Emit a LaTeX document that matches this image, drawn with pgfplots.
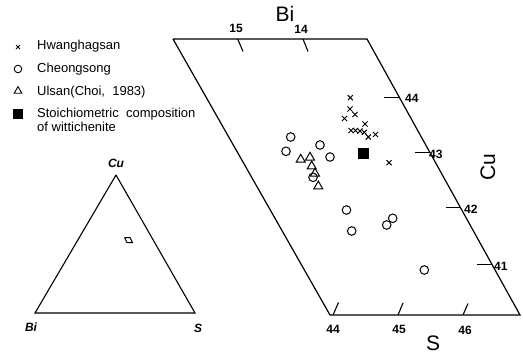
\documentclass[border=0pt]{standalone}
\usepackage{pgfplots}
\pgfplotsset{compat=1.18}
\usepackage{fontspec}
\setmainfont{Liberation Sans}
\tikzset{
  ticklab/.style={font=\fontsize{12bp}{14bp}\selectfont\bfseries},
  bigtitle/.style={font=\fontsize{21bp}{24bp}\selectfont},
  legtext/.style={font=\fontsize{13bp}{15bp}\selectfont, anchor=west, inner sep=0pt},
  cornerlab/.style={font=\fontsize{12bp}{14bp}\selectfont\bfseries\itshape},
}
\begin{document}
\begin{tikzpicture}
\begin{axis}[scale only axis, width=523bp, height=355bp,
  xmin=0, xmax=523, ymin=0, ymax=355, y dir=reverse,
  hide axis, clip=false]
\addplot[draw=none] coordinates {(0,0) (523,355)};
% parallelogram frame
\addplot[black, line width=1.2pt] coordinates {(173,39) (367,39) (520,315) (330,315) (173,39)};
% Bi ticks (top)
\addplot[black, line width=1.1pt] coordinates {(237.7,39) (243,51.5)};
\addplot[black, line width=1.1pt] coordinates {(303,39) (308,51.5)};
% S ticks (bottom)
\addplot[black, line width=1.1pt] coordinates {(333,315) (338.5,302.5)};
\addplot[black, line width=1.1pt] coordinates {(398,315) (403,303)};
\addplot[black, line width=1.1pt] coordinates {(463,315) (468,303.5)};
% Cu ticks (right)
\addplot[black, line width=1.1pt] coordinates {(383.5,97.7) (399.5,97.7)};
\addplot[black, line width=1.1pt] coordinates {(415,152.7) (430,152.7)};
\addplot[black, line width=1.1pt] coordinates {(446,207.3) (460.3,207.3)};
\addplot[black, line width=1.1pt] coordinates {(477.3,264.3) (492,264.3)};
% tick labels
\node[ticklab] at (axis cs:236,28) {15};
\node[ticklab] at (axis cs:301,29) {14};
\node[ticklab] at (axis cs:333,329) {44};
\node[ticklab] at (axis cs:399,329) {45};
\node[ticklab] at (axis cs:465,330) {46};
\node[ticklab, anchor=west, inner sep=0pt] at (axis cs:405,98) {44};
\node[ticklab, anchor=west, inner sep=0pt] at (axis cs:429,154) {43};
\node[ticklab, anchor=west, inner sep=0pt] at (axis cs:464,209) {42};
\node[ticklab, anchor=west, inner sep=0pt] at (axis cs:494,266) {41};
% axis titles
\node[bigtitle] at (axis cs:285,14) {Bi};
\node[bigtitle] at (axis cs:433,343) {S};
\node[bigtitle, rotate=90] at (axis cs:488,167) {Cu};
% data: Hwanghagsan
\addplot[only marks, mark=x, mark size=3.6bp, line width=1pt, black] coordinates {
(350.3,97.7) (350,109) (355,114.5) (344.5,118.5) (351,130.5) (355.5,130.5)
(360,131) (365,124) (364.3,132.3) (368.3,137) (375.5,134.5) (389,162.7)};
% Cheongsong
\addplot[only marks, mark=o, mark size=4.3bp, line width=1pt, black] coordinates {
(290.7,137) (286,151.3) (320,145) (330,157) (313,177.3) (346.5,210)
(351.7,231) (386.7,225) (392.7,218.3) (424.3,270)};
% Ulsan
\addplot[only marks, mark=triangle, mark size=5.2bp, line width=1pt, black] coordinates {
(300.7,159.5) (310,157.5) (311.7,166.3) (315,173.5) (318.3,186.3)};
% stoichiometric wittichenite
\addplot[only marks, mark=square*, mark size=5bp, black] coordinates {(363.3,153.3)};
% legend
\addplot[only marks, mark=x, mark size=2.8bp, line width=0.9pt, black] coordinates {(18,47)};
\addplot[only marks, mark=o, mark size=3.8bp, line width=0.9pt, black] coordinates {(18,69)};
\addplot[only marks, mark=triangle, mark size=4.4bp, line width=0.9pt, black] coordinates {(18,91)};
\addplot[only marks, mark=square*, mark size=4.5bp, black] coordinates {(18,114)};
\node[legtext] at (axis cs:37,46) {Hwanghagsan};
\node[legtext] at (axis cs:37,69) {Cheongsong};
\node[legtext] at (axis cs:37,92) {Ulsan(Choi,\ \ 1983)};
\node[legtext] at (axis cs:37,114) {Stoichiometric\ \ composition};
\node[legtext] at (axis cs:37,127) {of wittichenite};
% small ternary triangle
\addplot[black, line width=1.1pt] coordinates {(116,175) (35,313) (195,313) (116,175)};
\addplot[black, line width=1pt] coordinates {(124.5,237.5) (130,237.5) (132.5,242.5) (127,242.5) (124.5,237.5)};
\node[cornerlab] at (axis cs:116,163) {Cu};
\node[cornerlab] at (axis cs:31,327) {Bi};
\node[cornerlab] at (axis cs:198,328) {S};
\end{axis}
\end{tikzpicture}
\end{document}
